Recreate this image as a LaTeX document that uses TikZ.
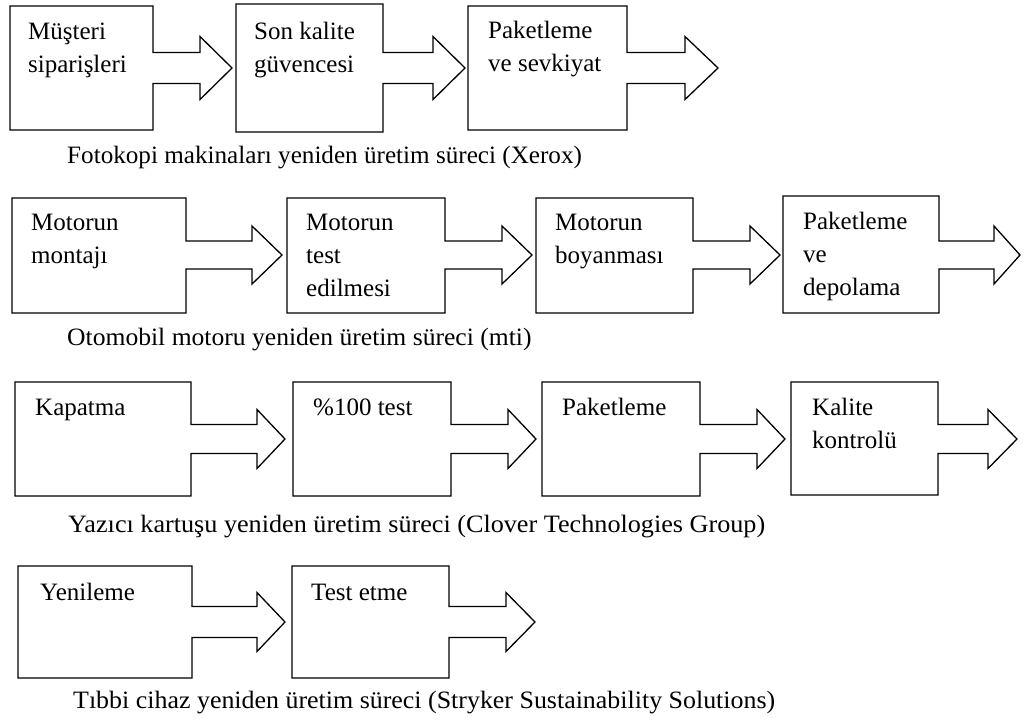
\documentclass[tikz,border=0pt]{standalone}
\usepackage{graphicx}
\usepackage{fontspec}
\setmainfont{Liberation Serif}
\tikzset{
  stage/.style={draw=black, line width=1.3pt, line join=miter, fill=white},
  % multi-line labels are placed by the baseline of their last line
  lbl/.style={font=\fontsize{25}{33}\selectfont, inner sep=0pt, align=left, anchor=base west},
  procname/.style={font=\fontsize{25}{30}\selectfont, inner sep=0pt, anchor=base west},
}
% Box with an arrow built into its right side.
% #1 left, #2 top, #3 right, #4 bottom, #5 head back, #6 tip,
% #7 arrow axis, #8 half shaft width, #9 half head width
\newcommand\stageshape[9]{%
  \draw[stage] (#1,#2) -- (#3,#2) -- (#3,{#7-#8}) -- (#5,{#7-#8})
    -- (#5,{#7-#9}) -- (#6,#7) -- (#5,{#7+#9}) -- (#5,{#7+#8})
    -- (#3,{#7+#8}) -- (#3,#4) -- (#1,#4) -- cycle;}
% Caption widened slightly, as the set type runs loose
\newcommand\widen[2]{\scalebox{#1}[1]{#2}}
\begin{document}
\begin{tikzpicture}[x=1pt,y=-1pt]
\useasboundingbox (0,0) rectangle (1025,726);

% Photocopier remanufacturing
\stageshape{10}{6}{153}{130}{200}{232}{68}{15.5}{31.5}
\stageshape{236}{4}{383}{132}{433}{465}{68}{15.5}{31.5}
\stageshape{468}{6}{627}{130}{685}{718}{68}{15.5}{31.5}
\node[lbl] (x1) at (28,72) {Müşteri\\siparişleri};
\node[lbl] (x2) at (254,72) {Son kalite\\güvencesi};
\node[lbl] (x3) at (488,71) {Paketleme\\ve sevkiyat};
\node[procname] (cx) at (67,163) {\widen{1.006}{Fotokopi makinaları yeniden üretim süreci (Xerox)}};

% Engine remanufacturing
\stageshape{12}{198}{186}{313}{252}{282}{255}{14}{29}
\stageshape{287}{198}{445}{313}{502}{532}{255}{14}{29}
\stageshape{536}{198}{693}{313}{750}{780}{255}{14}{29}
\stageshape{783}{196}{939}{313}{994}{1020}{255}{14}{29}
\node[lbl] (m1) at (31,263) {Motorun\\montajı};
\node[lbl] (m2) at (306,296) {Motorun\\test\\edilmesi};
\node[lbl] (m3) at (555,263) {Motorun\\boyanması};
\node[lbl] (m4) at (803,295) {Paketleme\\ve\\depolama};
\node[procname] (cm) at (67,345) {\widen{1.024}{Otomobil motoru yeniden üretim süreci (mti)}};

% Printer cartridge remanufacturing
\stageshape{15}{382}{191}{496}{257}{285}{439}{14.5}{29.5}
\stageshape{293}{382}{451}{496}{508}{536}{439}{14.5}{29.5}
\stageshape{542}{382}{700}{496}{757}{785}{439}{14.5}{29.5}
\stageshape{791}{382}{938}{495}{988}{1017}{439}{14.5}{29.5}
\node[lbl] (p1) at (35,415) {Kapatma};
\node[lbl] (p2) at (313,415) {\%100 test};
\node[lbl] (p3) at (562,415) {Paketleme};
\node[lbl] (p4) at (812,448) {Kalite\\kontrolü};
\node[procname] (cp) at (68,532) {\widen{1.047}{Yazıcı kartuşu yeniden üretim süreci (Clover Technologies Group)}};

% Medical device remanufacturing
\stageshape{18}{566}{192}{678}{257}{285}{622}{15.5}{29.5}
\stageshape{292}{566}{449}{678}{506}{535}{622}{15.5}{29.5}
\node[lbl] (t1) at (40,600) {Yenileme};
\node[lbl] (t2) at (311,600) {Test etme};
\node[procname] (ct) at (73,708) {\widen{1.037}{Tıbbi cihaz yeniden üretim süreci (Stryker Sustainability Solutions)}};
\end{tikzpicture}
\end{document}
